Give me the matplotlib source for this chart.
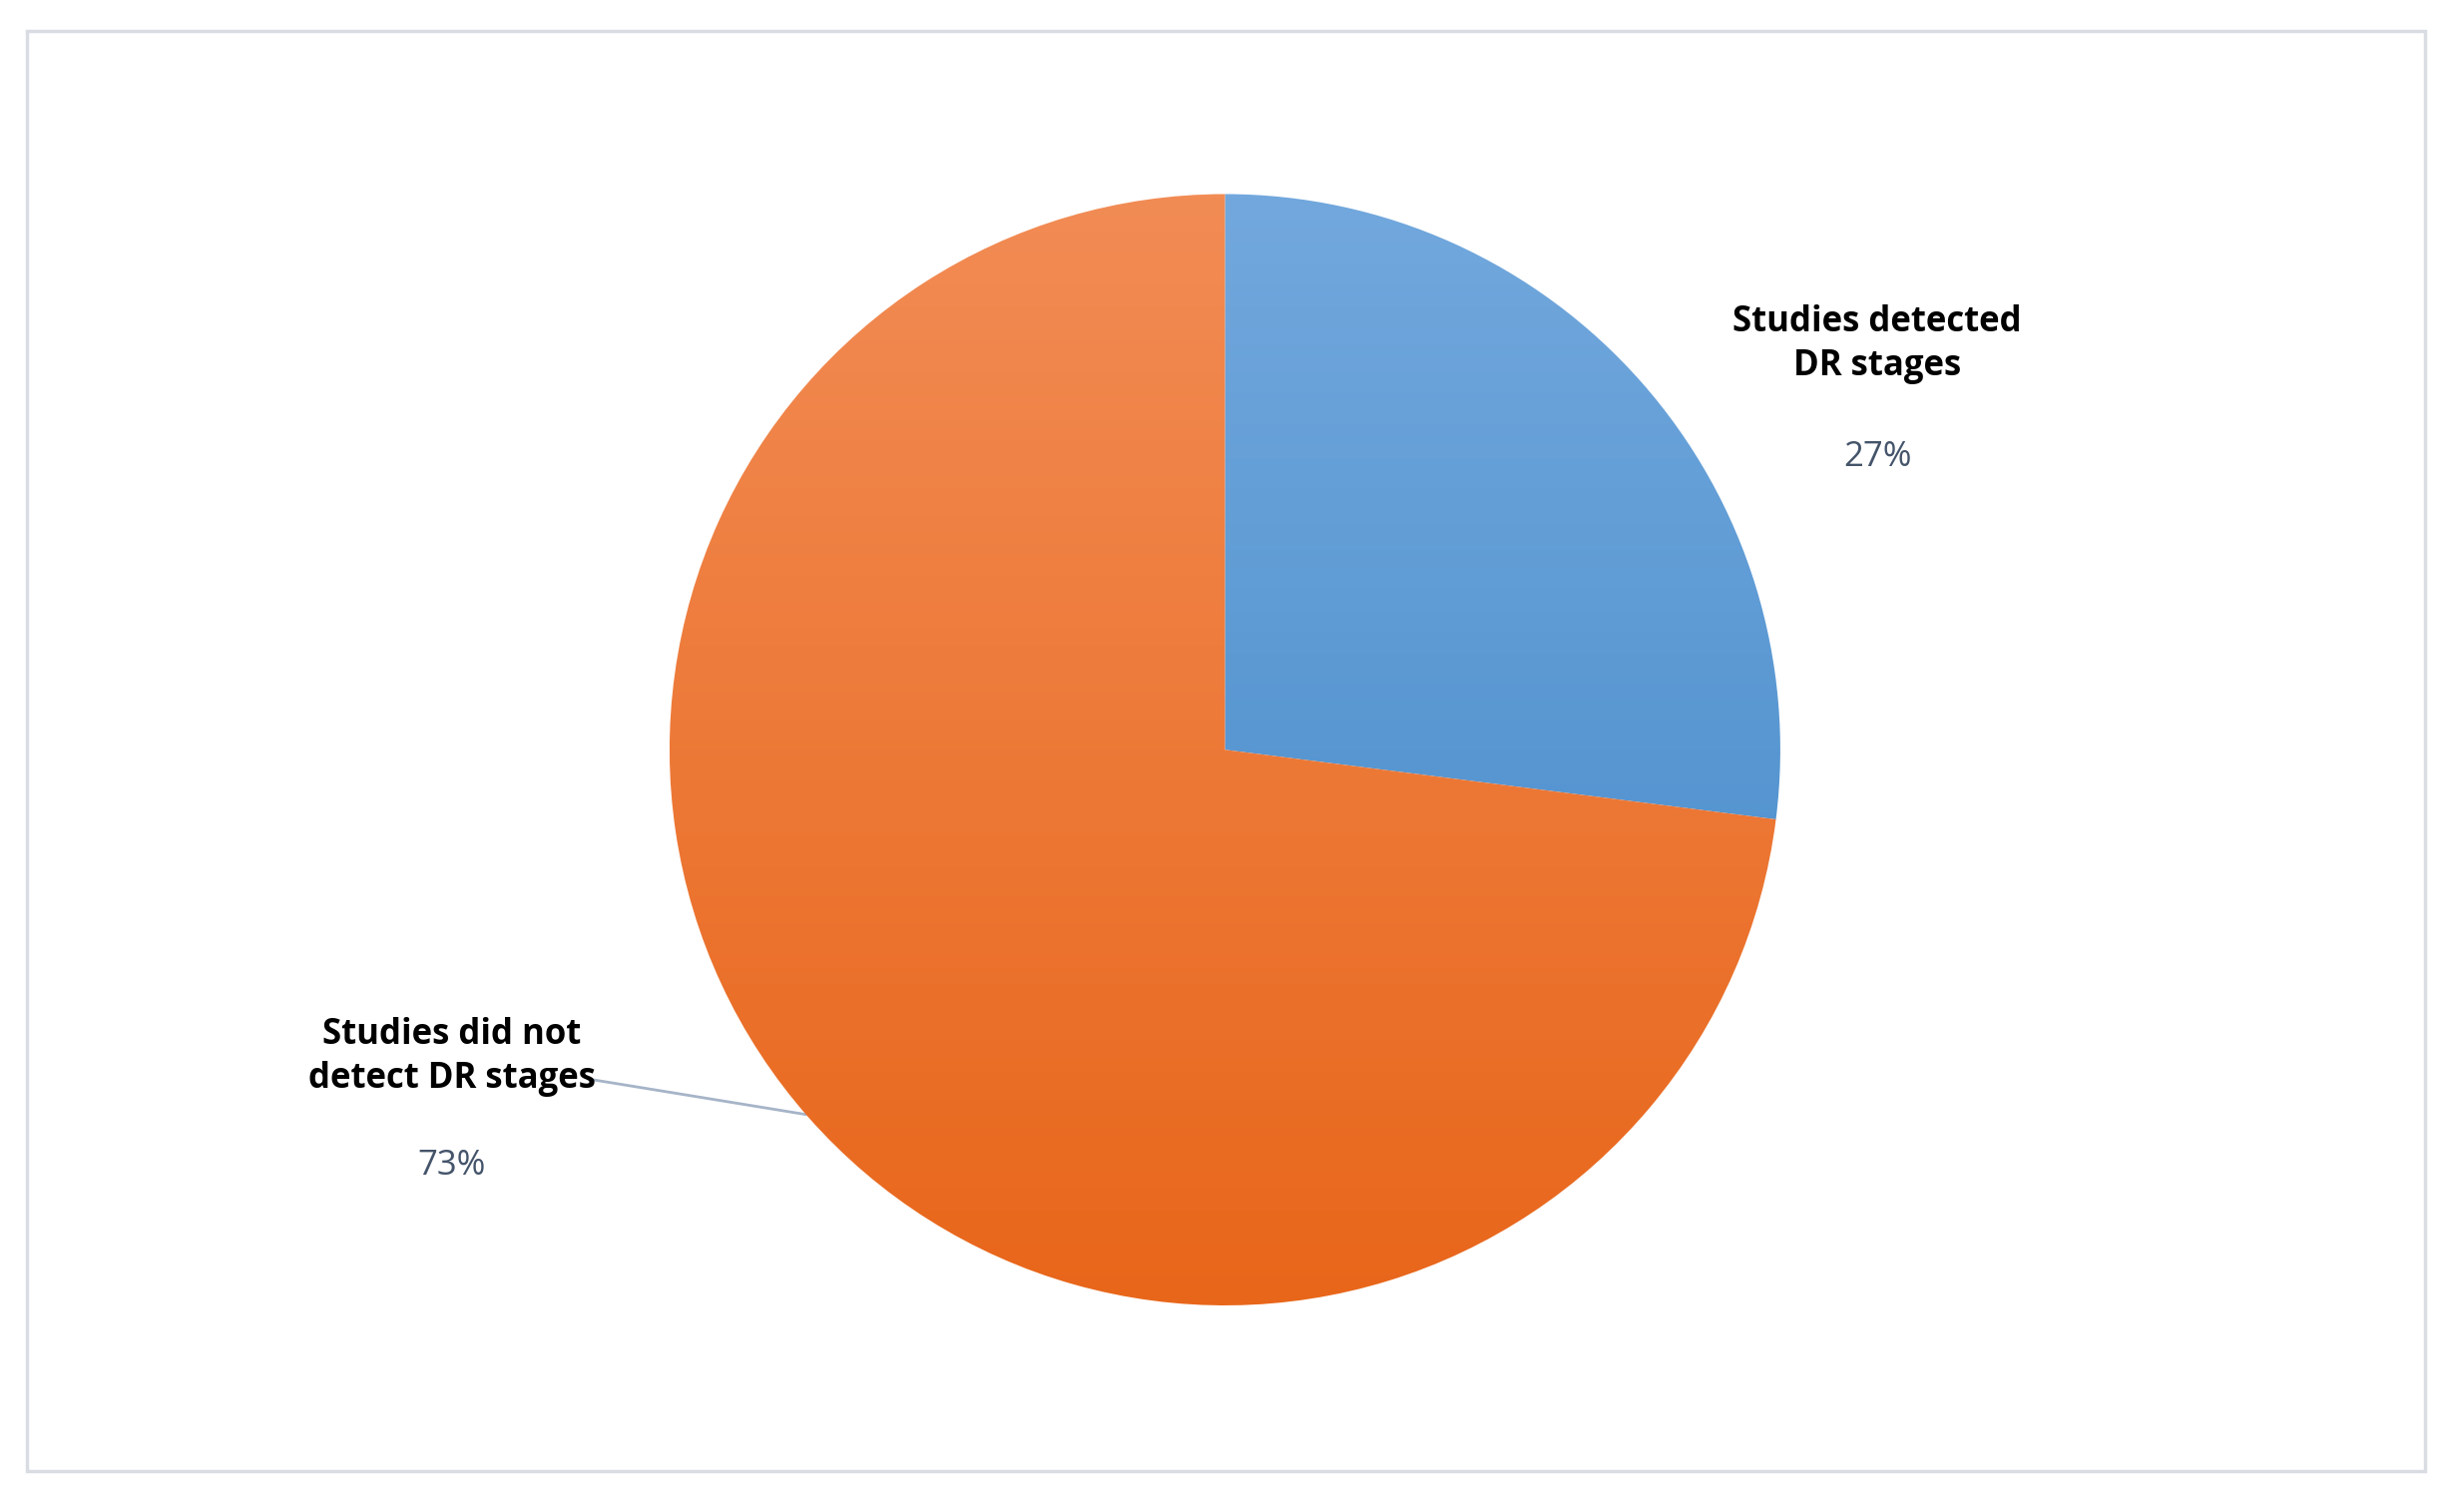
import numpy as np
import matplotlib.pyplot as plt
from matplotlib.colors import LinearSegmentedColormap
from matplotlib.patches import Rectangle

labels = ["Studies detected\nDR stages", "Studies did not\ndetect DR stages"]
shares = [27, 73]
pct_text = ["27%", "73%"]
top_colors = ["#72A8DD", "#F28C55"]
bot_colors = ["#3F86C7", "#E8661A"]

W, H = 1568, 966
fig = plt.figure(figsize=(24.58, 15.15), dpi=100)
ax = fig.add_axes([0, 0, 1, 1])
ax.set_xlim(0, W)
ax.set_ylim(0, H)
ax.axis("off")

ax.add_patch(Rectangle((17, H - 940), 1533, 920, fill=False, edgecolor="#D9DDE3", lw=2.5))

cx, cy, r = 783, H - 479, 355
wedges, _ = ax.pie(shares, startangle=90, counterclock=False, center=(cx, cy),
                   radius=r, frame=True)
ax.set_xlim(0, W)
ax.set_ylim(0, H)
ax.set_aspect("equal")
ax.axis("off")

grad = np.linspace(0, 1, 256).reshape(-1, 1)
for w, c0, c1 in zip(wedges, top_colors, bot_colors):
    w.set_facecolor("none")
    w.set_edgecolor("none")
    cmap = LinearSegmentedColormap.from_list("g", [c0, c1])
    im = ax.imshow(grad, cmap=cmap, extent=[cx - r, cx + r, cy - r, cy + r],
                   origin="upper", aspect="auto", zorder=1)
    im.set_clip_path(w)

# leader line for the big slice
ax.plot([380, 515], [H - 690, H - 712], color="#A6B4C8", lw=2, zorder=0.5)

font = "Open Sans"
ax.text(1200, H - 220, labels[0], ha="center", va="center", fontsize=25,
        fontweight="bold", family=font, linespacing=1.3)
ax.text(1200, H - 292, pct_text[0], ha="center", va="center", fontsize=25,
        color="#44546A", family=font)
ax.text(289, H - 675, labels[1], ha="center", va="center", fontsize=25,
        fontweight="bold", family=font, linespacing=1.3)
ax.text(289, H - 745, pct_text[1], ha="center", va="center", fontsize=25,
        color="#44546A", family=font)

fig.savefig("out.png", dpi=100)
